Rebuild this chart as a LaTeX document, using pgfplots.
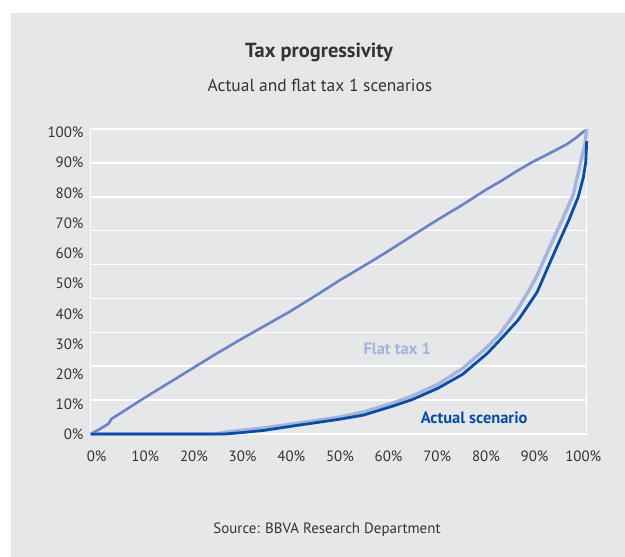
\documentclass[border=0pt]{standalone}
\usepackage{pgfplots}
\pgfplotsset{compat=1.18}
\usepackage{fontspec}
\setmainfont{PT Sans}
\definecolor{bgray}{HTML}{E6E7E9}
\definecolor{txt}{HTML}{333333}
\definecolor{diag}{HTML}{6B83C6}
\definecolor{flat}{HTML}{A6B3DC}
\definecolor{actual}{HTML}{0A4EA3}
\begin{document}
\begin{tikzpicture}[x=1bp,y=1bp]
\useasboundingbox (0,0) rectangle (625,-557);
\fill[white] (0,0) rectangle (625,-557);
\fill[bgray] (11,-12.7) rectangle (625,-557);
\node[font=\bfseries\fontsize{20.5}{24}\selectfont, text=txt] at (319,-52) {Tax progressivity};
\node[font=\fontsize{17.5}{20}\selectfont, text=txt] at (320,-85) {Actual and flat tax 1 scenarios};
\node[font=\fontsize{15}{18}\selectfont, text=txt] at (327,-530) {Source: BBVA Research Department};
\begin{axis}[
  at={(90.7bp,-434bp)}, anchor=south west,
  scale only axis, width=496bp, height=305bp,
  xmin=0, xmax=100, ymin=0, ymax=100,
  clip=false,
  axis line style={white, line width=1.5bp},
  major tick length=0pt,
  xtick={1.2,11.01,20.82,30.63,40.44,50.25,60.06,69.87,79.68,89.49,99.3},
  xticklabels={0\%,10\%,20\%,30\%,40\%,50\%,60\%,70\%,80\%,90\%,100\%},
  ytick={0,9.59,19.51,29.43,39.35,49.27,59.19,69.11,79.03,88.95,98.87},
  yticklabels={0\%,10\%,20\%,30\%,40\%,50\%,60\%,70\%,80\%,90\%,100\%},
  extra y ticks={0,11.111,22.222,33.333,44.444,55.556,66.667,77.778,88.889,100},
  extra y tick labels={},
  extra y tick style={grid=major},
  major grid style={white, line width=1.5bp},
  /pgf/number format/assume math mode=true,
  ticklabel style={font=\fontsize{15}{17}\selectfont, text=txt, inner sep=0pt},
  yticklabel style={anchor=east, xshift=-7bp},
  xticklabel style={anchor=north, yshift=-17bp},
]
\addplot[diag, line width=2.6bp, line join=round] coordinates {
(0,0) (1.5,1.3) (3.6,3.4) (4.2,5.0) (6,6.8) (10,11.0) (15,16.0) (20,21.0) (25,26.0) (30,30.8) (35,35.4) (40,40.0) (45,45.0) (50,50.2) (57,57.0) (60,60.0) (65,65.2) (70,70.3) (75,75.2) (80,80.4) (83,83.2) (86,86.3) (89.2,89.3) (92,91.6) (94,93.3) (96,95.0) (98,97.3) (99,98.7) (100,99.8)
};
\addplot[flat, line width=3.4bp, line join=round] coordinates {
(0,0) (25,0) (28,0.8) (35,2.0) (41.5,3.5) (50,5.5) (55,7.2) (61,10.2) (65,12.6) (70,16.3) (75,21.5) (80,28.6) (82.5,32.8) (86,40.7) (88.5,47.5) (90,52) (92.6,61.5) (95,70) (97.3,78.5) (98.7,88.5) (99.7,95.5) (100,100)
};
\addplot[actual, line width=2.8bp, line join=round] coordinates {
(0,0) (27,0) (30,0.4) (35,1.2) (41.5,2.8) (50,4.8) (55,6.2) (61,9.2) (65,11.4) (70,15.0) (75,19.6) (80,26.5) (82.5,30.8) (86.2,37.4) (87.6,40.7) (90,46.5) (92,54) (94.3,62.5) (96.5,70.5) (98.3,77.8) (99.3,84) (99.8,89) (100,96)
};
\node[font=\bfseries\fontsize{16.5}{19}\selectfont, text=flat] at (axis cs:61.8,27.9) {Flat tax 1};
\node[font=\bfseries\fontsize{16.5}{19}\selectfont, text=actual] at (axis cs:77.3,5.2) {Actual scenario};
\end{axis}
\end{tikzpicture}
\end{document}
